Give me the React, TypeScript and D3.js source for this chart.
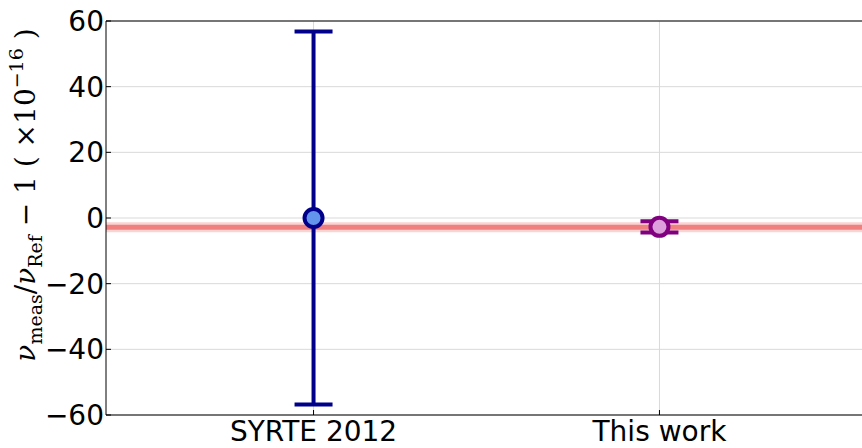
import React from "react";
import * as d3 from "d3";

const categories = ["SYRTE 2012", "This work"];
const values = [0, -2.7];
const errors = [56.8, 1.7];
const fills = ["#6495ED", "#DDA0DD"];
const edges = ["#00008B", "#800080"];
const refValue = -2.8;
const yTicks = [-60, -40, -20, 0, 20, 40, 60];

const W = 862;
const H = 448;
const margin = { top: 21, right: -5, bottom: 33, left: 106 };

export default function App() {
  const x = d3.scaleLinear().domain([0.4, 2.6]).range([margin.left, W - margin.right]);
  const y = d3.scaleLinear().domain([-60, 60]).range([H - margin.bottom, margin.top]);
  const fmt = (v: number) => (v < 0 ? "\u2212" + Math.abs(v) : String(v));
  const font = "DejaVu Sans, sans-serif";
  const serif = "DejaVu Serif, Liberation Serif, serif";

  return (
    <svg width={W} height={H} style={{ position: "absolute", left: 0, top: 0, background: "#fff" }}>
      {/* grid */}
      {yTicks.map((t) => (
        <line key={t} x1={margin.left} x2={W} y1={y(t)} y2={y(t)} stroke="#d9d9d9" strokeWidth={1} />
      ))}
      {categories.map((c, i) => (
        <line key={c} x1={x(i + 1)} x2={x(i + 1)} y1={margin.top} y2={H - margin.bottom} stroke="#d9d9d9" strokeWidth={1} />
      ))}

      {/* reference band */}
      <line x1={margin.left} x2={W} y1={y(refValue)} y2={y(refValue)} stroke="#f08080" strokeOpacity={0.35} strokeWidth={10} />
      <line x1={margin.left} x2={W} y1={y(refValue)} y2={y(refValue)} stroke="#f08080" strokeWidth={5} />

      {/* spines */}
      <line x1={margin.left} x2={W} y1={margin.top} y2={margin.top} stroke="#000" strokeWidth={1} />
      <line x1={margin.left} x2={W} y1={H - margin.bottom} y2={H - margin.bottom} stroke="#000" strokeWidth={1} />
      <line x1={margin.left} x2={margin.left} y1={margin.top} y2={H - margin.bottom} stroke="#000" strokeWidth={1} />

      {/* ticks */}
      {yTicks.map((t) => (
        <g key={t}>
          <line x1={margin.left} x2={margin.left + 5} y1={y(t)} y2={y(t)} stroke="#000" />
          <text x={margin.left - 2} y={y(t)} dy="0.36em" textAnchor="end" fontFamily={font} fontSize={28}>
            {fmt(t)}
          </text>
        </g>
      ))}
      {categories.map((c, i) => (
        <g key={c}>
          <line x1={x(i + 1)} x2={x(i + 1)} y1={H - margin.bottom} y2={H - margin.bottom - 5} stroke="#000" />
          <text x={x(i + 1)} y={H - 7} textAnchor="middle" fontFamily={font} fontSize={28}>
            {c}
          </text>
        </g>
      ))}

      {/* error bars */}
      {categories.map((c, i) => {
        const cx = x(i + 1);
        const hi = y(values[i] + errors[i]);
        const lo = y(values[i] - errors[i]);
        return (
          <g key={c} stroke={edges[i]} strokeWidth={4}>
            <line x1={cx} x2={cx} y1={hi} y2={lo} />
            <line x1={cx - 19} x2={cx + 19} y1={hi} y2={hi} />
            <line x1={cx - 19} x2={cx + 19} y1={lo} y2={lo} />
            <circle cx={cx} cy={y(values[i])} r={9} fill={fills[i]} strokeWidth={4} />
          </g>
        );
      })}

      {/* y label */}
      <text
        transform={`translate(35, ${y(0) - 23}) rotate(-90)`}
        textAnchor="middle"
        fontFamily={serif}
        fontSize={28}
      >
        <tspan fontStyle="italic">ν</tspan>
        <tspan fontSize={19} dy={7}>meas</tspan>
        <tspan dy={-7}>/</tspan>
        <tspan fontStyle="italic">ν</tspan>
        <tspan fontSize={19} dy={7}>Ref</tspan>
        <tspan dy={-7}> − 1 ( ×10</tspan>
        <tspan fontSize={19} dy={-12}>−16</tspan>
        <tspan dy={12}> )</tspan>
      </text>
    </svg>
  );
}
